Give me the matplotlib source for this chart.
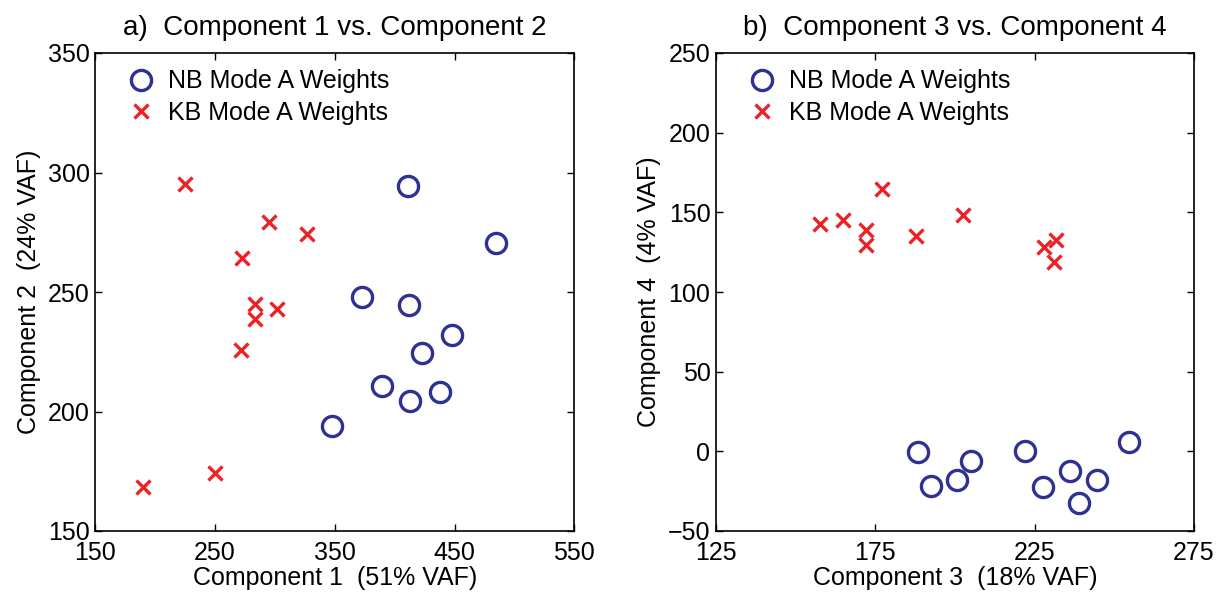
import numpy as np
from matplotlib import pyplot as plt

plt.rcParams['font.family'] = ['Liberation Sans', 'DejaVu Sans']
plt.rc('font', size=18)
plt.rc('xtick', labelsize=18)
plt.rc('ytick', labelsize=18)
plt.rc('axes', labelsize=18, linewidth=1.2)

# panel a) component 1 vs component 2
nb_c1 = [410.8, 484.3, 372.8, 411.8, 447.6, 423.2, 389.0, 437.8, 412.8, 347.4]
nb_c2 = [294.2, 270.6, 247.9, 244.4, 232.2, 224.3, 210.8, 208.3, 204.4, 194.0]
kb_c1 = [224.5, 295.4, 326.9, 272.3, 283.0, 283.0, 301.9, 271.9, 250.2, 190.0]
kb_c2 = [295.3, 279.2, 274.3, 264.4, 244.9, 238.5, 242.8, 225.7, 174.3, 168.5]

# panel b) component 3 vs component 4
nb_c3 = [188.4, 192.6, 200.5, 204.9, 222.1, 227.7, 236.1, 239.0, 244.7, 254.7]
nb_c4 = [-0.2, -21.8, -17.7, -5.8, 0.2, -22.2, -12.3, -32.4, -18.1, 5.6]
kb_c3 = [157.7, 164.7, 172.2, 172.2, 177.2, 187.8, 202.5, 227.9, 231.6, 231.0]
kb_c4 = [142.9, 145.0, 139.2, 129.2, 164.6, 135.0, 148.1, 128.5, 132.9, 118.8]

blue = '#2e3192'
red = '#ec2227'

fig = plt.figure(figsize=(12.19, 5.92), dpi=100)
ax1 = fig.add_axes([95.3/1219, 61/592, 479/1219, 478/592])
ax2 = fig.add_axes([716/1219, 61/592, 478/1219, 478/592])


def draw(ax, nbx, nby, kbx, kby):
    ax.plot(nbx, nby, linestyle='none', marker='o', markersize=14.5,
            markerfacecolor='none', markeredgecolor=blue, markeredgewidth=2.4,
            label='NB Mode A Weights')
    ax.plot(kbx, kby, linestyle='none', marker='x', markersize=9.5,
            markeredgecolor=red, markeredgewidth=2.4,
            label='KB Mode A Weights')
    ax.tick_params(direction='in', length=5, width=1, top=True, right=True)
    ax.tick_params(axis='x', pad=7)
    ax.tick_params(axis='y', pad=4)
    ax.legend(loc='upper left', frameon=False, fontsize=18, handletextpad=0.5,
              borderaxespad=0.2, labelspacing=0.3, borderpad=0.45,
              handlelength=1.2, bbox_to_anchor=(0.03, 1.0))


draw(ax1, nb_c1, nb_c2, kb_c1, kb_c2)
ax1.set_xlim(150, 550)
ax1.set_ylim(150, 350)
ax1.set_xticks([150, 250, 350, 450, 550])
ax1.set_yticks([150, 200, 250, 300, 350])
ax1.set_xlabel('Component 1  (51% VAF)', labelpad=1)
ax1.set_ylabel('Component 2  (24% VAF)', labelpad=5)
ax1.set_title('a)  Component 1 vs. Component 2', fontsize=20, pad=13)

draw(ax2, nb_c3, nb_c4, kb_c3, kb_c4)
ax2.set_xlim(125, 275)
ax2.set_ylim(-50, 250)
ax2.set_xticks([125, 175, 225, 275])
ax2.set_yticks([-50, 0, 50, 100, 150, 200, 250])
ax2.set_yticklabels(['\u221250', '0', '50', '100', '150', '200', '250'])
ax2.set_xlabel('Component 3  (18% VAF)', labelpad=1)
ax2.set_ylabel('Component 4  (4% VAF)', labelpad=5)
ax2.set_title('b)  Component 3 vs. Component 4', fontsize=20, pad=13)

plt.savefig('out.png', dpi=100)
